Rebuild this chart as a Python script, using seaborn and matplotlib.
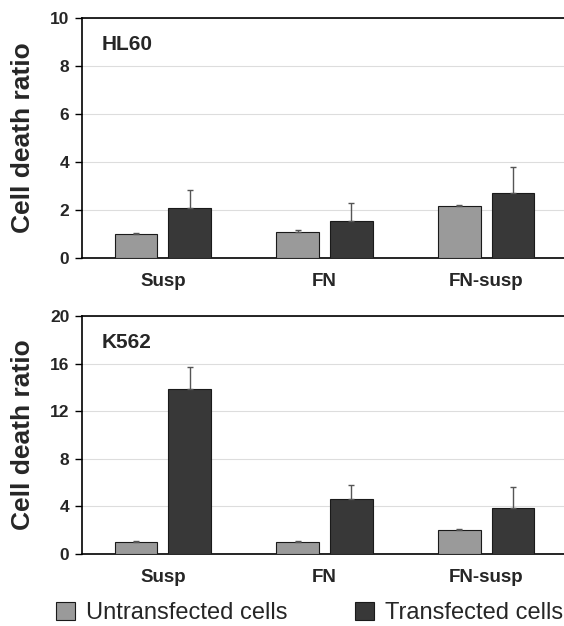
import matplotlib
matplotlib.use("Agg")
import matplotlib.pyplot as plt
import seaborn as sns
import pandas as pd
import numpy as np
from matplotlib.patches import Patch

sns.set_theme(style="white")
plt.rcParams['font.family'] = ['Liberation Sans', 'DejaVu Sans']

categories = ["Susp", "FN", "FN-susp"]
groups = ["Untransfected cells", "Transfected cells"]

hl60_untr = [1.0, 1.1, 2.15]
hl60_untr_err = [0.05, 0.05, 0.05]
hl60_tr = [2.1, 1.55, 2.7]
hl60_tr_err = [0.75, 0.75, 1.1]

k562_untr = [1.0, 1.0, 2.0]
k562_untr_err = [0.1, 0.1, 0.1]
k562_tr = [13.9, 4.6, 3.9]
k562_tr_err = [1.8, 1.2, 1.7]

colors = {"Untransfected cells": "#9a9a9a", "Transfected cells": "#383838"}

fig = plt.figure(figsize=(5.64, 6.26), dpi=100)

def panel(rect, untr, untr_err, tr, tr_err, ymax, yticks, title):
    ax = fig.add_axes(rect)
    df = pd.DataFrame({
        "cat": categories * 2,
        "grp": [groups[0]] * 3 + [groups[1]] * 3,
        "val": list(untr) + list(tr),
        "err": list(untr_err) + list(tr_err),
    })
    sns.barplot(data=df, x="cat", y="val", hue="grp", order=categories,
                hue_order=groups, palette=colors, width=0.66, gap=0.2,
                edgecolor="#1a1a1a", linewidth=0.8, errorbar=None, ax=ax,
                legend=False, zorder=3)
    for bar, (_, row) in zip(ax.patches, df.iterrows()):
        xc = bar.get_x() + bar.get_width() / 2
        h = bar.get_height()
        ax.errorbar([xc], [h], yerr=[[0], [row["err"]]], fmt="none",
                    ecolor="#555555", elinewidth=1.0, capsize=2, capthick=1.0,
                    zorder=4)
    ax.set_xlim(-0.5, 2.5)
    ax.set_ylim(0, ymax)
    ax.set_yticks(yticks)
    ax.set_yticklabels([str(t) for t in yticks], fontsize=12.5, fontweight="bold")
    ax.set_xticks([0, 1, 2])
    ax.set_xticklabels(categories, fontsize=13.5, fontweight="bold")
    ax.set_xticks([0.5, 1.5], minor=True)
    ax.tick_params(axis="x", which="major", length=0, pad=11)
    ax.tick_params(axis="x", which="minor", length=4, width=1, color="black", direction="out")
    ax.tick_params(axis="y", length=5, width=1, color="black", direction="out", left=True, pad=4)
    ax.grid(axis="y", color="#dddddd", linewidth=0.8, zorder=0)
    ax.set_axisbelow(True)
    for s in ["left", "bottom", "top"]:
        ax.spines[s].set_color("black")
        ax.spines[s].set_linewidth(1.2)
    ax.spines["right"].set_visible(False)
    ax.set_xlabel("")
    ax.set_ylabel("Cell death ratio", fontsize=19, fontweight="bold", labelpad=11)
    ax.text(20 / 485, 1 - 27 / (rect[3] * 626), title, transform=ax.transAxes,
            fontsize=15, fontweight="bold", va="center", ha="left")
    return ax

W, H = 564.0, 626.0
x0 = 82 / W
w = 485 / W
ax1 = panel([x0, 1 - 258 / H, w, 240 / H], hl60_untr, hl60_untr_err, hl60_tr,
            hl60_tr_err, 10, [0, 2, 4, 6, 8, 10], "HL60")
ax2 = panel([x0, 1 - 554 / H, w, 238 / H], k562_untr, k562_untr_err, k562_tr,
            k562_tr_err, 20, [0, 4, 8, 12, 16, 20], "K562")

handles = [Patch(facecolor=colors[g], edgecolor="#1a1a1a", linewidth=0.8) for g in groups]
fig.legend(handles=handles, labels=groups, loc="center left",
           bbox_to_anchor=(56 / W, 13 / H), ncol=2, frameon=False,
           fontsize=17, columnspacing=2.9, handlelength=0.8, handleheight=0.8,
           handletextpad=0.45, borderpad=0, borderaxespad=0)

fig.savefig("out.png", dpi=100)
